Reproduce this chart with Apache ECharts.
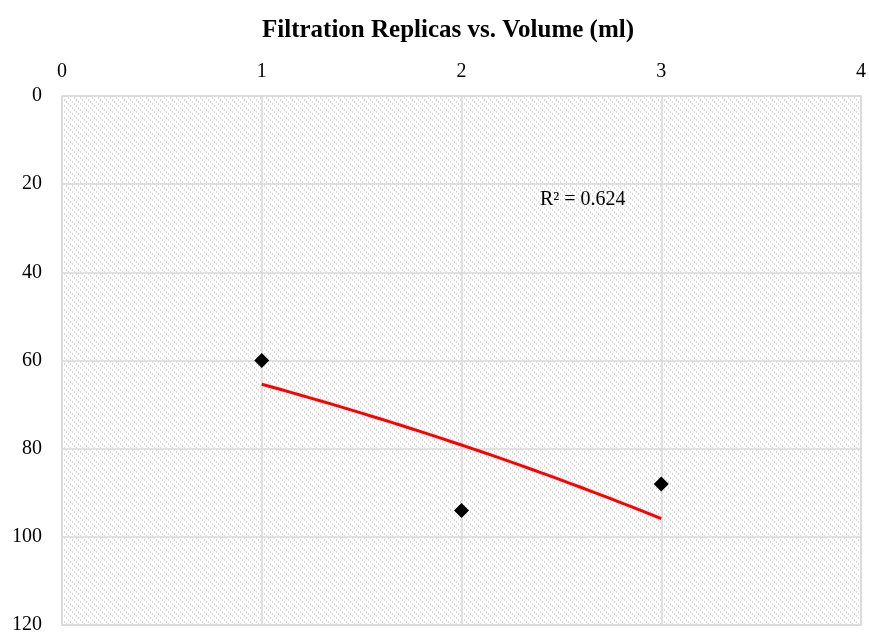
<!DOCTYPE html>
<html>
<head>
<meta charset="utf-8">
<script src="https://cdn.jsdelivr.net/npm/echarts@6/dist/echarts.min.js"></script>
<style>html,body{margin:0;padding:0;background:#fff}#c{width:869px;height:635px}</style>
</head>
<body>
<div id="c"></div>
<script>
const titleText = 'Filtration Replicas vs. Volume (ml)';
const replicas = [1, 2, 3];
const volumes = [60, 94, 88];
const r2Label = 'R² = 0.624';

// Exponential trendline fitted to the data (least squares on ln y)
const n = replicas.length;
const lny = volumes.map(v => Math.log(v));
const mx = replicas.reduce((a, b) => a + b, 0) / n;
const my = lny.reduce((a, b) => a + b, 0) / n;
let sxy = 0, sxx = 0;
for (let i = 0; i < n; i++) { sxy += (replicas[i] - mx) * (lny[i] - my); sxx += (replicas[i] - mx) ** 2; }
const b = sxy / sxx, a = my - b * mx;
const trend = [];
for (let k = 0; k <= 40; k++) { const x = 1 + 2 * k / 40; trend.push([x, Math.exp(a + b * x)]); }

// hatch pattern
const tile = document.createElement('canvas');
tile.width = 6; tile.height = 6;
const tctx = tile.getContext('2d');
tctx.fillStyle = '#ffffff'; tctx.fillRect(0, 0, 6, 6);
tctx.fillStyle = '#d8d8d8';
for (let y = 0; y < 6; y++) for (let x = 0; x < 6; x++) {
  const d = ((x - y) % 6 + 6) % 6;
  if ((d === 0 && y % 2 === 0) || (d === 1 && y % 2 === 1)) tctx.fillRect(x, y, 1, 1);
}

const chart = echarts.init(document.getElementById('c'));
const font = '"Liberation Serif", "Times New Roman", serif';
chart.setOption({
  animation: false,
  title: { text: titleText, left: 443, top: 13, textAlign: 'center',
    textStyle: { fontFamily: font, fontSize: 25, fontWeight: 'bold', color: '#000' } },
  grid: { left: 62, right: 6, top: 96, bottom: 8, show: true,
    backgroundColor: { image: tile, repeat: 'repeat' }, borderColor: '#d9d9d9', borderWidth: 1.5 },
  xAxis: { type: 'value', position: 'top', min: 0, max: 4, interval: 1,
    axisLine: { show: false }, axisTick: { show: false },
    axisLabel: { fontFamily: font, fontSize: 20, color: '#000', margin: 14 },
    splitLine: { lineStyle: { color: '#d9d9d9', width: 1.5 } } },
  yAxis: { type: 'value', inverse: true, min: 0, max: 120, interval: 20,
    axisLine: { show: false }, axisTick: { show: false },
    axisLabel: { fontFamily: font, fontSize: 20, color: '#000', margin: 20 },
    splitLine: { lineStyle: { color: '#d9d9d9', width: 1.5 } } },
  series: [
    { type: 'line', data: trend, showSymbol: false, symbol: 'none', smooth: false,
      lineStyle: { color: '#ff0000', width: 3 }, z: 2, silent: true },
    { type: 'scatter', data: replicas.map((x, i) => [x, volumes[i]]), symbol: 'diamond',
      symbolSize: 15, itemStyle: { color: '#000', opacity: 1 }, z: 3 }
  ],
  graphic: [{ type: 'text', left: 540, top: 190,
    style: { text: r2Label, font: '20px "Liberation Serif", serif', fill: '#000' } }]
});
</script>
</body>
</html>
